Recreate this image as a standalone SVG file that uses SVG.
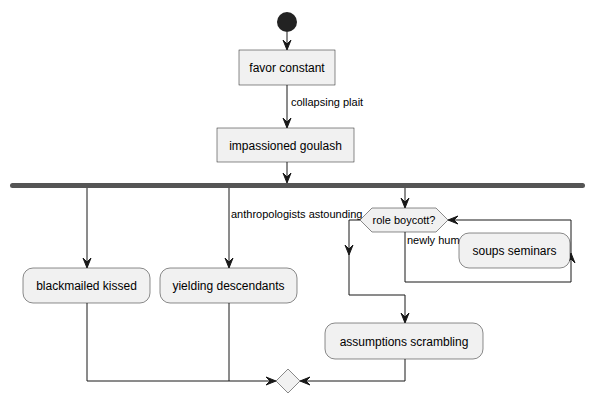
<svg xmlns="http://www.w3.org/2000/svg" width="595" height="404" viewBox="0 0 595 404">
<defs>
<style>
.box{fill:#F1F1F1;stroke:#181818;stroke-width:0.5}
.ln{fill:none;stroke:#181818;stroke-width:1}
.ah{fill:#181818;stroke:#181818;stroke-width:1}
.t{font-family:"Liberation Sans",Arial,sans-serif;font-size:12px;fill:#000}
.s{font-family:"Liberation Sans",Arial,sans-serif;font-size:11px;fill:#000}
</style>
</defs>
<rect width="595" height="404" fill="#FFFFFF"/>
<g id="connectors">
<line class="ln" x1="287" y1="32" x2="287" y2="49"/>
<polygon class="ah" points="283,40 287,50 291,40 287,44"/>
<line class="ln" x1="287" y1="85" x2="287" y2="127"/>
<polygon class="ah" points="283,118 287,128 291,118 287,122"/>
<text class="s" x="291" y="106">collapsing plait</text>
<line class="ln" x1="287" y1="162" x2="287" y2="182"/>
<polygon class="ah" points="283,173 287,183 291,173 287,177"/>
<line class="ln" x1="87" y1="188" x2="87" y2="267"/>
<polygon class="ah" points="83,258 87,268 91,258 87,262"/>
<line class="ln" x1="229" y1="188" x2="229" y2="267"/>
<polygon class="ah" points="225,258 229,268 233,258 229,262"/>
<text class="s" x="231" y="218">anthropologists astounding</text>
<line class="ln" x1="405" y1="188" x2="405" y2="207"/>
<polygon class="ah" points="401,198 405,208 409,198 405,202"/>
<polyline class="ln" points="360,220 349,220 349,295 405,295 405,322"/>
<polygon class="ah" points="345,245 349,255 353,245 349,249"/>
<polygon class="ah" points="401,313 405,323 409,313 405,317"/>
<polyline class="ln" points="405,232 405,282 571,282 571,220 449,220"/>
<polygon class="ah" points="567,263 571,253 575,263 571,259"/>
<polygon class="ah" points="458,216 448,220 458,224 454,220"/>
<text class="s" x="407" y="244">newly hum</text>
<polyline class="ln" points="87,303 87,381 275,381"/>
<line class="ln" x1="229" y1="303" x2="229" y2="381"/>
<polygon class="ah" points="266,377 276,381 266,385 270,381"/>
<polyline class="ln" points="405,359 405,381 301,381"/>
<polygon class="ah" points="310,377 300,381 310,385 306,381"/>
</g>
<g id="start"><circle cx="287" cy="22" r="10" fill="#222222"/></g>
<g id="favor_constant"><rect class="box" x="239" y="50" width="96" height="35"/><text class="t" x="287" y="72" text-anchor="middle">favor constant</text></g>
<g id="impassioned_goulash"><rect class="box" x="217" y="128" width="137" height="34"/><text class="t" x="285.5" y="149.5" text-anchor="middle">impassioned goulash</text></g>
<g id="fork"><rect x="10" y="183" width="575" height="5" rx="2.5" fill="#555555"/></g>
<g id="blackmailed_kissed"><rect class="box" x="23" y="268" width="127" height="35" rx="10"/><text class="t" x="86.5" y="290" text-anchor="middle">blackmailed kissed</text></g>
<g id="yielding_descendants"><rect class="box" x="160" y="268" width="137" height="35" rx="10"/><text class="t" x="228.5" y="290" text-anchor="middle">yielding descendants</text></g>
<g id="role_boycott"><polygon class="box" points="360,220 372,208 436,208 448,220 436,232 372,232"/><text class="s" x="404" y="224" text-anchor="middle">role boycott?</text></g>
<g id="soups_seminars"><rect class="box" x="459" y="233" width="111" height="35" rx="10"/><text class="t" x="514.5" y="255" text-anchor="middle">soups seminars</text></g>
<g id="assumptions_scrambling"><rect class="box" x="325" y="323" width="158" height="36" rx="10"/><text class="t" x="404" y="345.5" text-anchor="middle">assumptions scrambling</text></g>
<g id="merge"><polygon class="box" points="276,381 288,369 300,381 288,393"/></g>
</svg>
